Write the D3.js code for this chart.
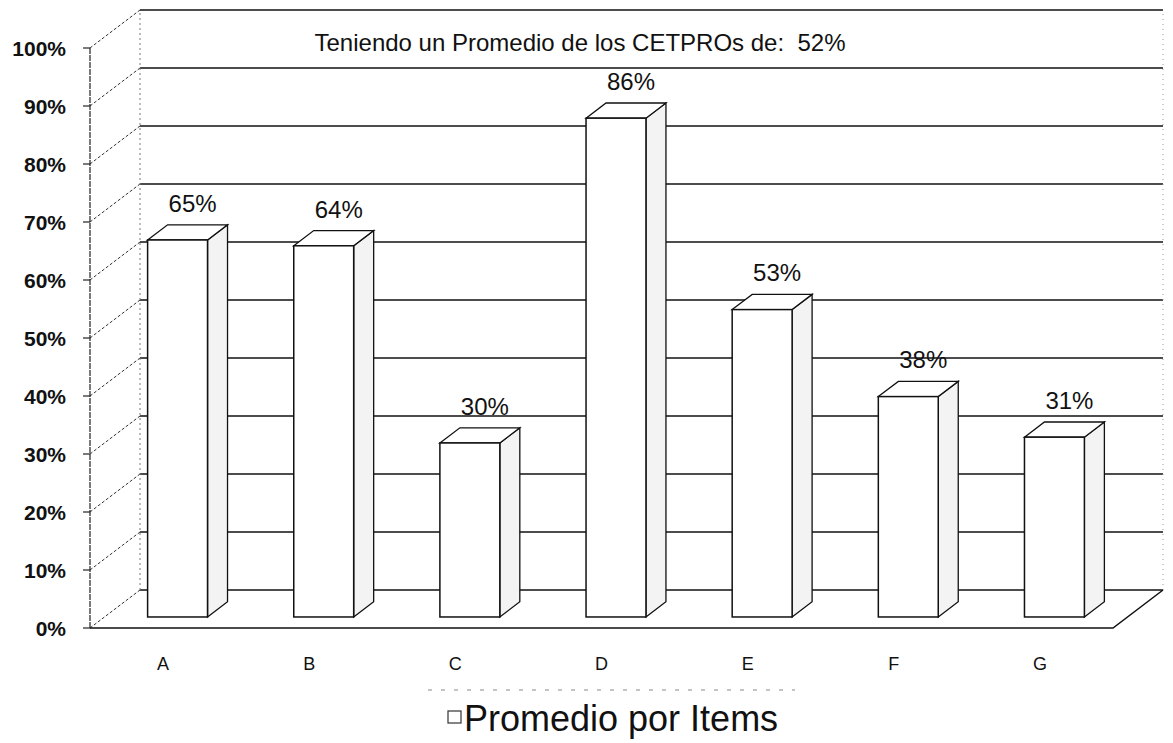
<!DOCTYPE html>
<html>
<head>
<meta charset="utf-8">
<script src="https://cdn.jsdelivr.net/npm/d3@7"></script>
<style>
  body { margin: 0; background: #fff; }
  svg text { font-family: "Liberation Sans", Arial, sans-serif; fill: #111; }
</style>
</head>
<body>
<svg id="chart" width="1173" height="743"></svg>
<script>
// data
var categories = ['A', 'B', 'C', 'D', 'E', 'F', 'G'];
var values = [0.65, 0.64, 0.30, 0.86, 0.53, 0.38, 0.31];
var yTicks = [0, 0.1, 0.2, 0.3, 0.4, 0.5, 0.6, 0.7, 0.8, 0.9, 1.0];
var titleText = 'Teniendo un Promedio de los CETPROs de:  52%';
var legendText = 'Promedio por Items';

var svg = d3.select('#chart');

// front plane of the 3d box, plus the depth offset of the back wall
var plotLeft = 90, plotRight = 1113, plotBottom = 628, plotTop = 48;
var depthX = 50, depthY = -38;

var x = d3.scaleBand().domain(categories).range([plotLeft, plotRight]).paddingInner(0.59).paddingOuter(0.295);
var y = d3.scaleLinear().domain([0, 1]).range([plotBottom, plotTop]);

// where a bar sits in depth (fraction of the box depth)
var barFront = 0.29, barBack = 0.69;

function off(f) { return [depthX * f, depthY * f]; }

var line = d3.line();
var pct = d3.format('.0%');

// back wall + gridlines
var wall = svg.append('g');
yTicks.forEach(function(t) {
	wall.append('path')
		.attr('d', line([[plotLeft + depthX, y(t) + depthY], [plotRight + depthX, y(t) + depthY]]))
		.attr('stroke', '#111').attr('stroke-width', 1.4).attr('fill', 'none');
	// side wall diagonals
	wall.append('path')
		.attr('d', line([[plotLeft, y(t)], [plotLeft + depthX, y(t) + depthY]]))
		.attr('stroke', '#333').attr('stroke-width', 1).attr('stroke-dasharray', '3,2').attr('fill', 'none');
});
wall.append('path')
	.attr('d', line([[plotLeft + depthX, y(0) + depthY], [plotLeft + depthX, y(1) + depthY]]))
	.attr('stroke', '#777').attr('stroke-width', 1).attr('stroke-dasharray', '2,3').attr('fill', 'none');
wall.append('path')
	.attr('d', line([[plotRight + depthX, y(0) + depthY], [plotRight + depthX, y(1) + depthY]]))
	.attr('stroke', '#999').attr('stroke-width', 1).attr('stroke-dasharray', '1,4').attr('fill', 'none');

// floor
svg.append('path')
	.attr('d', line([[plotLeft, plotBottom], [plotRight, plotBottom], [plotRight + depthX, plotBottom + depthY]]))
	.attr('stroke', '#111').attr('stroke-width', 1.5).attr('fill', 'none');

// front axis
svg.append('path')
	.attr('d', line([[plotLeft, plotBottom], [plotLeft, plotTop]]))
	.attr('stroke', '#222').attr('stroke-width', 1.2).attr('stroke-dasharray', '6,1').attr('fill', 'none');

var yAxis = svg.append('g');
yTicks.forEach(function(t) {
	yAxis.append('line')
		.attr('x1', plotLeft - 7).attr('x2', plotLeft).attr('y1', y(t)).attr('y2', y(t))
		.attr('stroke', '#222').attr('stroke-width', 1.2);
	yAxis.append('text')
		.attr('x', 66).attr('y', y(t) + 8)
		.attr('text-anchor', 'end')
		.style('font-size', '21px').style('font-weight', 'bold')
		.text(pct(t));
});

// bars
var f0 = off(barFront), f1 = off(barBack);
var bars = svg.append('g');
categories.forEach(function(c, i) {
	var v = values[i];
	var x0 = x(c) + f0[0], x1 = x0 + x.bandwidth();
	var yb = y(0) + f0[1], yt = y(v) + f0[1];
	var ddx = f1[0] - f0[0], ddy = f1[1] - f0[1];
	var g = bars.append('g');
	// side face
	g.append('path')
		.attr('d', line([[x1, yb], [x1 + ddx, yb + ddy], [x1 + ddx, yt + ddy], [x1, yt]]) + 'Z')
		.attr('fill', '#f3f3f3').attr('stroke', '#111').attr('stroke-width', 1.3);
	// top face
	g.append('path')
		.attr('d', line([[x0, yt], [x0 + ddx, yt + ddy], [x1 + ddx, yt + ddy], [x1, yt]]) + 'Z')
		.attr('fill', '#fff').attr('stroke', '#111').attr('stroke-width', 1.3);
	// front face
	g.append('rect')
		.attr('x', x0).attr('y', yt).attr('width', x1 - x0).attr('height', yb - yt)
		.attr('fill', '#fff').attr('stroke', '#111').attr('stroke-width', 1.5);
	g.append('text')
		.attr('x', (x0 + x1) / 2 + 15).attr('y', yt + ddy - 13)
		.attr('text-anchor', 'middle')
		.style('font-size', '24px')
		.text(pct(v));
});

// category labels
svg.append('g').selectAll('text').data(categories).enter().append('text')
	.attr('x', function(d) { return x(d) + x.bandwidth() / 2; })
	.attr('y', 670)
	.attr('text-anchor', 'middle')
	.style('font-size', '18px')
	.text(function(d) { return d; });

// title
svg.append('text')
	.attr('x', 580).attr('y', 51)
	.attr('text-anchor', 'middle')
	.style('font-size', '24px')
	.style('white-space', 'pre')
	.text(titleText);

// legend
var lg = svg.append('g');
lg.append('path')
	.attr('d', line([[428, 690], [795, 690]]))
	.attr('stroke', '#888').attr('stroke-width', 1).attr('stroke-dasharray', '4,9');
lg.append('rect')
	.attr('x', 448).attr('y', 711).attr('width', 13).attr('height', 12)
	.attr('fill', '#fff').attr('stroke', '#333').attr('stroke-width', 1.2);
lg.append('text')
	.attr('x', 464).attr('y', 731)
	.style('font-size', '36px')
	.text(legendText);
</script>
</body>
</html>
